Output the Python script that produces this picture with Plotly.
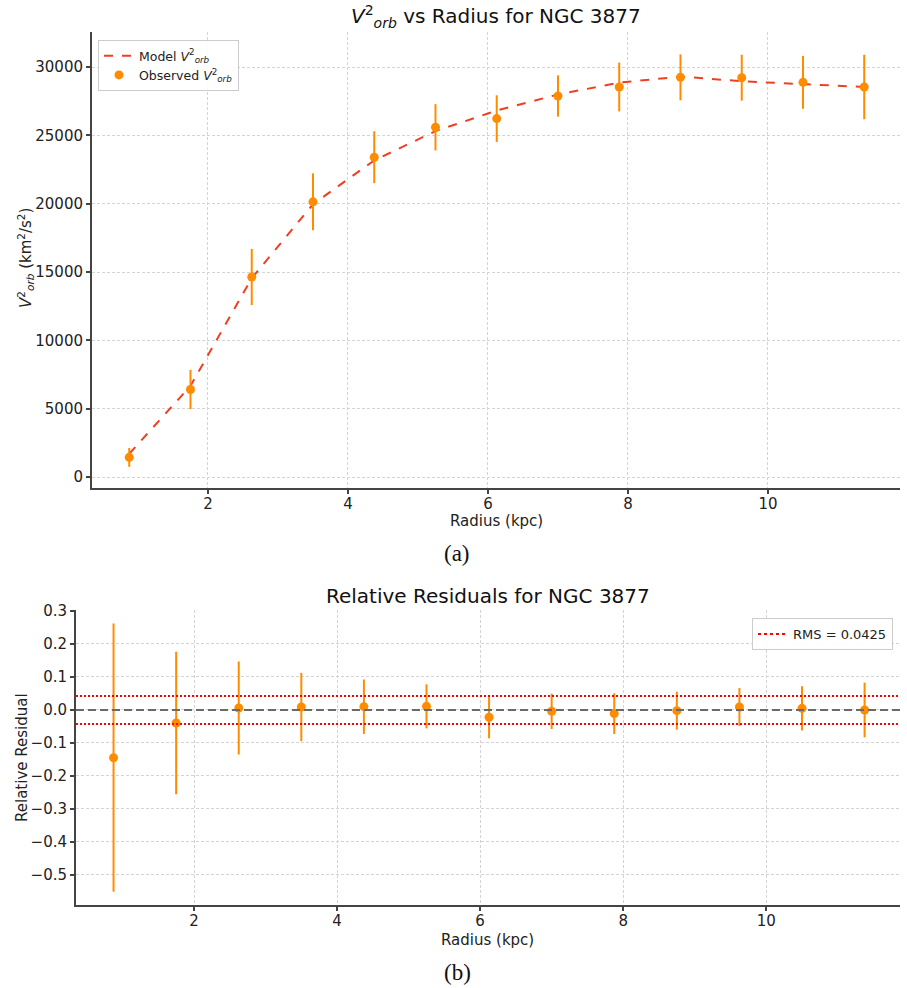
import plotly.graph_objects as go

# Rotation-curve data for NGC 3877
radius_kpc = [0.875, 1.75, 2.625, 3.5, 4.375, 5.25, 6.125, 7.0, 7.875, 8.75, 9.625, 10.5, 11.375]
v2_observed = [1437, 6405, 14637, 20141, 23405, 25597, 26230, 27886, 28544, 29250, 29225, 28885, 28544]
v2_error = [690, 1437, 2058, 2082, 1900, 1693, 1705, 1510, 1790, 1680, 1680, 1936, 2362]
v2_model = [1700, 6668, 14550, 19961, 23173, 25318, 26820, 27998, 28861, 29309, 28965, 28741, 28544]

# Relative residuals (observed - model) / model and their uncertainties
rel_residual = [-0.1446, -0.0394, 0.006, 0.009, 0.010, 0.011, -0.022, -0.004, -0.011, -0.002, 0.009, 0.005, 0.0]
rel_residual_err = [0.4066, 0.216, 0.141, 0.1036, 0.0824, 0.0667, 0.064, 0.0536, 0.0617, 0.0576, 0.0576, 0.067, 0.083]
rms_value = 0.0425

W, H = 907, 988
FONT = "DejaVu Sans"
ORANGE = "#ff8c00"
MODEL_RED = "#ee4020"
SPINE = "#444444"
GRID = "#d4d4d4"


def px_x(p):
    return p / W


def px_y(p):
    return 1 - p / H


fig = go.Figure()

# Top panel: V_orb^2 vs radius
fig.add_trace(go.Scatter(
    x=radius_kpc, y=v2_model, mode="lines",
    line=dict(color=MODEL_RED, width=2, dash="dash"),
    name="Model <i>V</i><sup>2</sup><sub><i>orb</i></sub>",
    xaxis="x", yaxis="y", legend="legend",
))
fig.add_trace(go.Scatter(
    x=radius_kpc, y=v2_observed, mode="markers",
    marker=dict(color=ORANGE, size=9),
    error_y=dict(type="data", array=v2_error, color=ORANGE, thickness=2, width=0),
    name="Observed <i>V</i><sup>2</sup><sub><i>orb</i></sub>",
    xaxis="x", yaxis="y", legend="legend",
))

# Bottom panel: relative residuals
fig.add_trace(go.Scatter(
    x=radius_kpc, y=rel_residual, mode="markers",
    marker=dict(color=ORANGE, size=9),
    error_y=dict(type="data", array=rel_residual_err, color=ORANGE, thickness=2, width=0),
    showlegend=False, xaxis="x2", yaxis="y2",
))

# Legend entry for the RMS band (the band itself is drawn as shapes)
fig.add_trace(go.Scatter(
    x=[None], y=[None], mode="lines",
    line=dict(color="red", width=2, dash="dot"),
    name=f"RMS = {rms_value}", xaxis="x2", yaxis="y2", legend="legend2",
))

shapes = [
    dict(type="line", xref="x2 domain", yref="y2", x0=0, x1=1, y0=0, y1=0,
         line=dict(color="#6a6a6a", width=2, dash="8px,4px"), layer="above"),
    dict(type="line", xref="x2 domain", yref="y2", x0=0, x1=1, y0=rms_value, y1=rms_value,
         line=dict(color="red", width=2, dash="2px,2px"), layer="above"),
    dict(type="line", xref="x2 domain", yref="y2", x0=0, x1=1, y0=-rms_value, y1=-rms_value,
         line=dict(color="red", width=2, dash="2px,2px"), layer="above"),
]

axis_common = dict(
    showline=True, linecolor=SPINE, linewidth=2, mirror=False, automargin=False,
    ticks="outside", ticklen=4, tickwidth=1.5, tickcolor=SPINE,
    showgrid=True, gridcolor=GRID, griddash="3px,2px", gridwidth=1,
    zeroline=False, tickfont=dict(family=FONT, size=15, color="#222222"),
)

annotations = [
    dict(text="<i>V</i><sup>2</sup><sub><i>orb</i></sub> vs Radius for NGC 3877",
         x=px_x(496), y=px_y(17), xref="paper", yref="paper", showarrow=False,
         font=dict(family=FONT, size=20, color="#111111"), xanchor="center", yanchor="middle"),
    dict(text="Relative Residuals for NGC 3877",
         x=px_x(488), y=px_y(596), xref="paper", yref="paper", showarrow=False,
         font=dict(family=FONT, size=20, color="#111111"), xanchor="center", yanchor="middle"),
    dict(text="Radius (kpc)", x=px_x(496), y=px_y(521), xref="paper", yref="paper",
         showarrow=False, font=dict(family=FONT, size=15, color="#222222"),
         xanchor="center", yanchor="middle"),
    dict(text="Radius (kpc)", x=px_x(488), y=px_y(940), xref="paper", yref="paper",
         showarrow=False, font=dict(family=FONT, size=15, color="#222222"),
         xanchor="center", yanchor="middle"),
    dict(text="<i>V</i><sup>2</sup><sub><i>orb</i></sub> (km<sup>2</sup>/s<sup>2</sup>)",
         x=px_x(25), y=px_y(258), xref="paper", yref="paper", showarrow=False,
         textangle=-90, font=dict(family=FONT, size=15, color="#222222"),
         xanchor="center", yanchor="middle"),
    dict(text="Relative Residual", x=px_x(22), y=px_y(758), xref="paper", yref="paper",
         showarrow=False, textangle=-90, font=dict(family=FONT, size=15, color="#222222"),
         xanchor="center", yanchor="middle"),
    dict(text="(a)", x=px_x(457), y=px_y(553), xref="paper", yref="paper", showarrow=False,
         font=dict(family="Liberation Serif", size=23, color="#111111"),
         xanchor="center", yanchor="middle"),
    dict(text="(b)", x=px_x(457), y=px_y(972), xref="paper", yref="paper", showarrow=False,
         font=dict(family="Liberation Serif", size=23, color="#111111"),
         xanchor="center", yanchor="middle"),
]

fig.update_layout(
    width=W, height=H,
    margin=dict(l=0, r=0, t=0, b=0, autoexpand=False),
    paper_bgcolor="white", plot_bgcolor="white",
    font=dict(family=FONT, color="#222222"),
    xaxis=dict(domain=[px_x(92), px_x(900)], range=[0.343, 11.886], anchor="y",
               tickvals=[2, 4, 6, 8, 10], ticklabelstandoff=-3, **axis_common),
    yaxis=dict(domain=[px_y(488), px_y(32)], range=[-805, 32570], anchor="x",
               tickvals=[0, 5000, 10000, 15000, 20000, 25000, 30000],
               ticktext=["0", "5000", "10000", "15000", "20000", "25000", "30000"],
               **axis_common),
    xaxis2=dict(domain=[px_x(76), px_x(900)], range=[0.35, 11.87], anchor="y2",
                tickvals=[2, 4, 6, 8, 10], ticklabelstandoff=-3, **axis_common),
    yaxis2=dict(domain=[px_y(905), px_y(610)], range=[-0.591, 0.303], anchor="x2",
                tickvals=[0.3, 0.2, 0.1, 0.0, -0.1, -0.2, -0.3, -0.4, -0.5],
                ticktext=["0.3", "0.2", "0.1", "0.0", "\u22120.1", "\u22120.2",
                          "\u22120.3", "\u22120.4", "\u22120.5"],
                **axis_common),
    legend=dict(x=px_x(98), y=px_y(40), xanchor="left", yanchor="top",
                bgcolor="rgba(255,255,255,0.9)", bordercolor="#cccccc", borderwidth=1,
                font=dict(family=FONT, size=12.5, color="#222222"),
                tracegroupgap=2, itemwidth=30),
    legend2=dict(x=px_x(893), y=px_y(618), xanchor="right", yanchor="top",
                 bgcolor="rgba(255,255,255,0.9)", bordercolor="#cccccc", borderwidth=1,
                 font=dict(family=FONT, size=13, color="#222222"), itemwidth=30),
    shapes=shapes,
    annotations=annotations,
)

fig.write_html("out.html")
